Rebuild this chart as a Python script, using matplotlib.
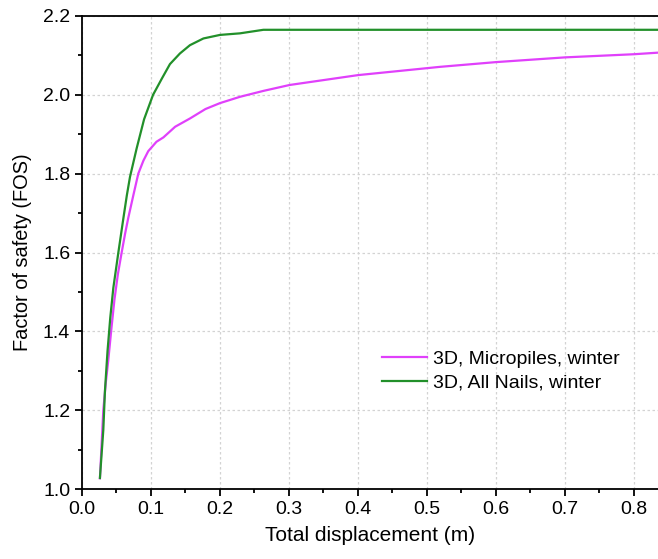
import matplotlib
matplotlib.use('Agg')
import matplotlib.pyplot as plt
from matplotlib.ticker import MultipleLocator, FormatStrFormatter

plt.rcParams['font.family'] = ['Liberation Sans', 'DejaVu Sans']

# 3D, Micropiles, winter
x_micro = [0.026, 0.0309, 0.0345, 0.038, 0.0425, 0.047, 0.0520, 0.0575, 0.0625, 0.0671,
           0.0744, 0.0816, 0.089, 0.096, 0.108, 0.118, 0.135, 0.1565, 0.179, 0.2,
           0.229, 0.263, 0.301, 0.4, 0.519, 0.6, 0.70, 0.8, 0.835]
y_micro = [1.027, 1.200, 1.270, 1.325, 1.405, 1.480, 1.545, 1.600, 1.648, 1.688,
           1.745, 1.800, 1.833, 1.857, 1.881, 1.892, 1.919, 1.940, 1.964, 1.979,
           1.995, 2.010, 2.025, 2.050, 2.071, 2.083, 2.095, 2.103, 2.107]

# 3D, All Nails, winter
x_nails = [0.026, 0.0309, 0.0333, 0.0370, 0.0410, 0.0454, 0.0527, 0.0600, 0.0650, 0.0696,
           0.0792, 0.090, 0.103, 0.116, 0.1275, 0.142, 0.1565, 0.176, 0.2, 0.229,
           0.263, 0.4, 0.6, 0.835]
y_nails = [1.028, 1.150, 1.250, 1.350, 1.435, 1.510, 1.600, 1.687, 1.745, 1.792,
           1.864, 1.938, 2.000, 2.042, 2.078, 2.105, 2.126, 2.143, 2.152, 2.156,
           2.165, 2.165, 2.165, 2.165]

fig = plt.figure(figsize=(6.58, 5.59), dpi=100)
ax = fig.add_axes([82/658, 1-489/559, 1-82/658, (489-16)/559])

ax.plot(x_micro, y_micro, color='#e040fb', lw=1.6, label='3D, Micropiles, winter')
ax.plot(x_nails, y_nails, color='#22902a', lw=1.6, label='3D, All Nails, winter')

ax.set_xlim(0, 0.835)
ax.set_ylim(1.0, 2.2)
ax.xaxis.set_major_locator(MultipleLocator(0.1))
ax.xaxis.set_minor_locator(MultipleLocator(0.05))
ax.yaxis.set_major_locator(MultipleLocator(0.2))
ax.yaxis.set_minor_locator(MultipleLocator(0.1))
ax.tick_params(which='both', direction='out', width=1.3, labelsize=14, top=False, right=False)
ax.tick_params(which='major', length=5)
ax.tick_params(which='minor', length=3)
ax.xaxis.set_major_formatter(FormatStrFormatter('%.1f'))
ax.yaxis.set_major_formatter(FormatStrFormatter('%.1f'))

for s in ['left', 'bottom', 'top']:
    ax.spines[s].set_linewidth(1.3)
ax.spines['right'].set_visible(False)

ax.grid(True, which='major', color='#d3d3d3', linestyle=(0, (2, 2)), lw=0.9)

ax.set_xlabel('Total displacement (m)', fontsize=15, labelpad=6)
ax.set_ylabel('Factor of safety (FOS)', fontsize=14.4, labelpad=8)

ax.legend(loc='upper left', bbox_to_anchor=(0.49, 0.33), frameon=False,
          fontsize=14, handlelength=2.35, handletextpad=0.3, labelspacing=0.32)

fig.savefig('out.png', dpi=100)
